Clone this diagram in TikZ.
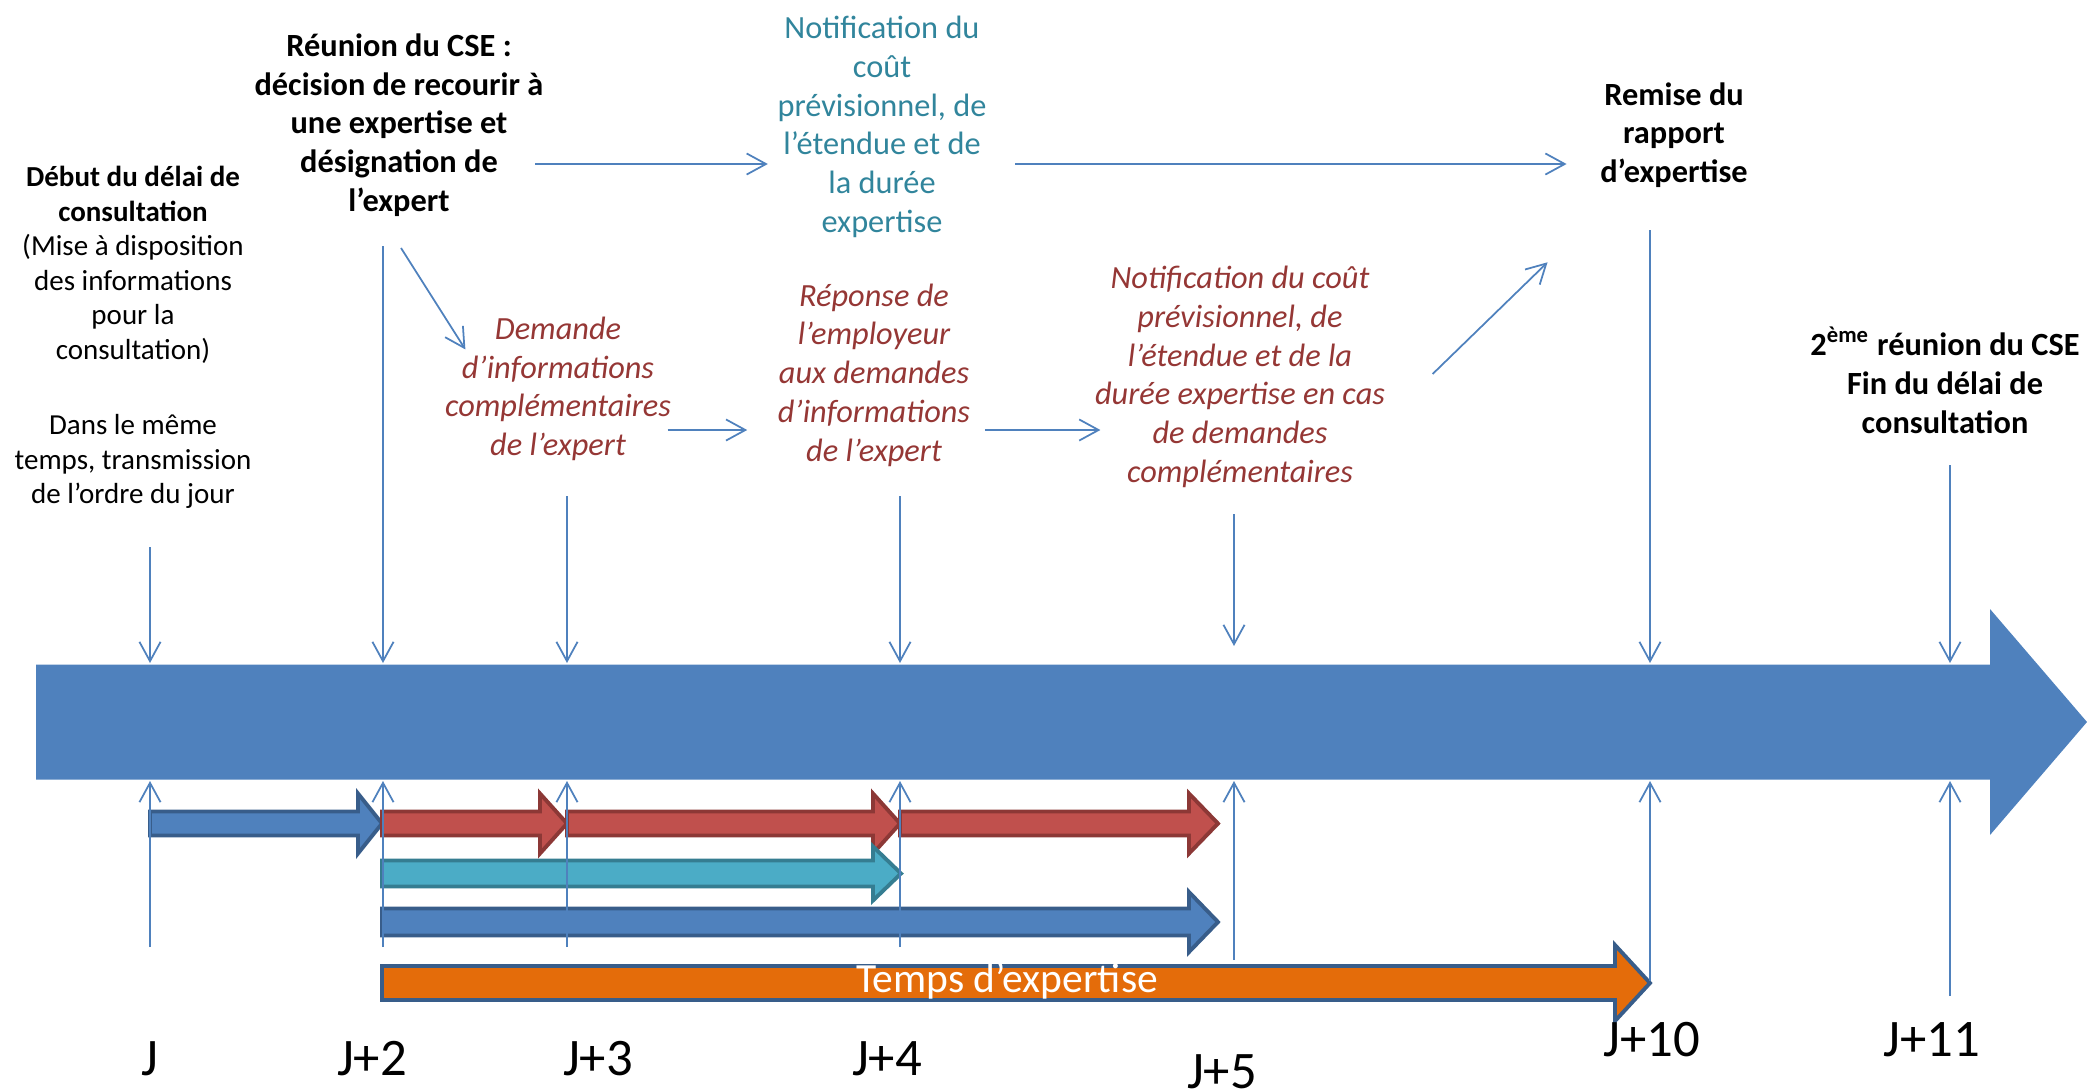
\documentclass[tikz,border=0pt]{standalone}
\usepackage{fontspec}
\setmainfont{Carlito}
\usetikzlibrary{arrows.meta}
\definecolor{bleu}{HTML}{4F81BD}
\definecolor{bleufonce}{HTML}{385D8A}
\definecolor{rouge}{HTML}{C0504D}
\definecolor{rougefonce}{HTML}{8C3836}
\definecolor{turquoise}{HTML}{4BACC6}
\definecolor{turquoisefonce}{HTML}{357D91}
\definecolor{orange}{HTML}{E46C0A}
\definecolor{texteturq}{HTML}{31859C}
\definecolor{texterouge}{HTML}{953735}
\newcommand{\taille}{\fontsize{9.2}{11}\selectfont}
\newcommand{\bloc}[7]{\draw[#7] (#1,#4-#5) -- (#2,#4-#5) -- (#2,#4-#6) -- (#3,#4) -- (#2,#4+#6) -- (#2,#4+#5) -- (#1,#4+#5) -- cycle;}
\newcommand{\jalon}[8]{\coordinate (#1h) at (#2,#3); \coordinate (#1s) at (#2,#4);
  \coordinate (#1i) at (#2,781); \coordinate (#1b) at (#2,#5);
  \draw[fin] (#1h) -- (#1s); \draw[fin] (#1b) -- (#1i); \node[jour] (#1) at (#6,#7) {#8};}
\newcommand{\lien}[2]{\draw[fin] (#1) -- (#2);}

\begin{document}
\begin{tikzpicture}[x=0.01cm,y=-0.01cm,
    fin/.style={draw=bleu,line width=0.5pt,-{Straight Barb[length=5.5pt,width=6pt]}},
    jour/.style={font=\fontsize{15}{18}\selectfont},
    noir/.style={align=center,inner sep=0pt,font=\taille\bfseries},
    turq/.style={align=center,inner sep=0pt,text=texteturq,font=\taille},
    rougeit/.style={align=center,inner sep=0pt,text=texterouge,font=\taille\itshape}]
    \useasboundingbox (0,0) rectangle (2087,1090);
    \bloc{36}{1990}{2087}{722}{57.5}{113}{fill=bleu,draw=none}
    \bloc{150}{358}{382}{823.5}{12}{30}{fill=bleu,draw=bleufonce,line width=1.1pt}
    \bloc{382}{540}{567}{823.5}{12}{30}{fill=rouge,draw=rougefonce,line width=1.1pt}
    \bloc{567}{873}{900}{823.5}{12}{30}{fill=rouge,draw=rougefonce,line width=1.1pt}
    \bloc{900}{1189}{1218}{823.5}{12}{30}{fill=rouge,draw=rougefonce,line width=1.1pt}
    \bloc{382}{873}{901}{873.5}{13}{27}{fill=turquoise,draw=turquoisefonce,line width=1.1pt}
    \bloc{382}{1189}{1218}{922}{13.5}{30}{fill=bleu,draw=bleufonce,line width=1.1pt}
    \bloc{382}{1615}{1650}{983}{17}{38}{fill=orange,draw=bleufonce,line width=1.1pt}
    \node[text=white,font=\fontsize{11.8}{14}\selectfont] (temps) at (1007,981) {Temps d’expertise};
    \jalon{j0}{150}{547}{663}{947}{150}{1059}{J}
    \jalon{j2}{383}{246}{663}{947}{372}{1059}{J+2}
    \jalon{j3}{567}{496}{663}{947}{598}{1059}{J+3}
    \jalon{j4}{900}{496}{663}{947}{887}{1059}{J+4}
    \jalon{j5}{1234}{514}{646}{960}{1222}{1072}{J+5}
    \jalon{j10}{1650}{230}{663}{981}{1652}{1040}{J+10}
    \jalon{j11}{1950}{465}{663}{996}{1932}{1040}{J+11}
    \node[align=center,inner sep=0pt,font=\fontsize{8.25}{9.8}\selectfont] (debut) at (133,337.5)
      {\textbf{Début du délai de}\\\textbf{consultation}\\(Mise à disposition\\des informations\\pour la\\consultation)\\[11.7pt]Dans le même\\temps, transmission\\de l’ordre du jour};
    \node[noir] (reunion) at (399,125) {Réunion du CSE :\\décision de recourir à\\une expertise et\\désignation de\\l’expert};
    \node[turq] (notifA) at (882,127) {Notification du\\coût\\prévisionnel, de\\l’étendue et de\\la durée\\expertise};
    \node[rougeit] (demande) at (558,389) {Demande\\d’informations\\complémentaires\\de l’expert};
    \node[rougeit] (reponse) at (874,375) {Réponse de\\l’employeur\\aux demandes\\d’informations\\de l’expert};
    \node[rougeit] (notifB) at (1240,377) {Notification du coût\\prévisionnel, de\\l’étendue et de la\\durée expertise en cas\\de demandes\\complémentaires};
    \node[noir] (remise) at (1674,135) {Remise du\\rapport\\d’expertise};
    \node[noir] (fin) at (1945,380) {2\textsuperscript{ème} réunion du CSE\\Fin du délai de\\consultation};
    \lien{[shift={(-9,39)}]reunion.east}{[shift={(-9,37)}]notifA.west}
    \lien{[shift={(28,37)}]notifA.east}{[shift={(-33,29)}]remise.west}
    \lien{[shift={(2,31)}]reunion.south}{[shift={(21,33)}]demande.north west}
    \lien{[shift={(-4,41)}]demande.east}{[shift={(-30,55)}]reponse.west}
    \lien{[shift={(14,55)}]reponse.east}{[shift={(6,53)}]notifB.west}
    \lien{[shift={(47,-3)}]notifB.east}{[shift={(-52,74)}]remise.south west}
\end{tikzpicture}
\end{document}
